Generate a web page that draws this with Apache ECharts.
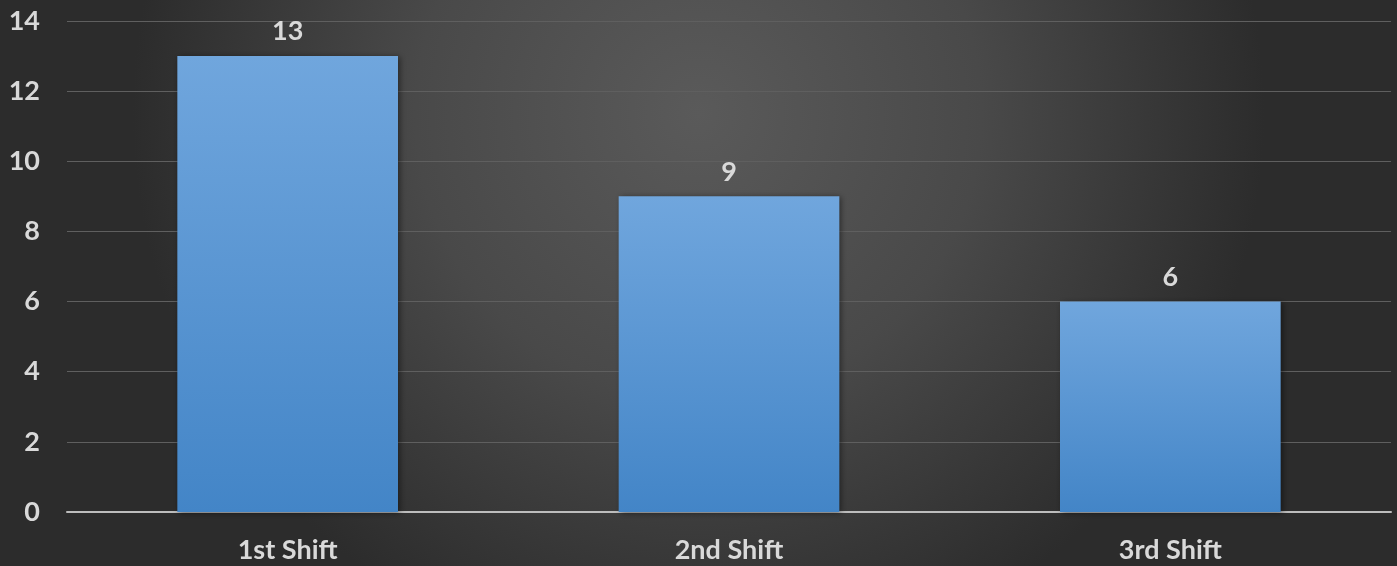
<!DOCTYPE html>
<html>
<head>
<meta charset="utf-8">
<script src="https://cdn.jsdelivr.net/npm/echarts@6/dist/echarts.min.js"></script>
<style>
html,body{margin:0;padding:0;background:#2e2e2e;}
#chart{width:1397px;height:566px;}
</style>
</head>
<body>
<div id="chart"></div>
<script>
const categories = ['1st Shift', '2nd Shift', '3rd Shift'];
const values = [13, 9, 6];
const yTicks = [0, 2, 4, 6, 8, 10, 12, 14];

const chart = echarts.init(document.getElementById('chart'));
const font = 'Lato, "Noto Sans", sans-serif';
chart.setOption({
  backgroundColor: {
    type: 'radial', x: 0.5, y: 0.2, r: 1.0,
    colorStops: [
      {offset: 0, color: '#5a5a5a'},
      {offset: 0.5, color: '#494949'},
      {offset: 1, color: '#2c2c2c'}
    ]
  },
  animation: false,
  grid: {left: 67, right: 6, top: 21, bottom: 54},
  xAxis: {
    type: 'category',
    data: categories,
    axisLine: {lineStyle: {color: '#bdbdbd', width: 2}},
    axisTick: {show: false},
    axisLabel: {color: '#d9d9d9', fontSize: 27, fontWeight: 'bold', fontFamily: font, margin: 25}
  },
  yAxis: {
    type: 'value',
    min: yTicks[0], max: yTicks[yTicks.length - 1], interval: 2,
    axisLine: {show: false},
    axisTick: {show: false},
    splitLine: {lineStyle: {color: '#5f5f5f', width: 1}},
    axisLabel: {color: '#d9d9d9', fontSize: 27, fontWeight: 'bold', fontFamily: font, margin: 27}
  },
  series: [{
    type: 'bar',
    data: values,
    barWidth: '50%',
    itemStyle: {
      color: {
        type: 'linear', x: 0, y: 0, x2: 0, y2: 1,
        colorStops: [{offset: 0, color: '#70a6dd'}, {offset: 1, color: '#4385c7'}]
      },
      shadowColor: 'rgba(0,0,0,0.45)', shadowBlur: 6, shadowOffsetX: 2, shadowOffsetY: 1
    },
    label: {
      show: true, position: 'top', distance: 11,
      color: '#d9d9d9', fontSize: 27, fontWeight: 'bold', fontFamily: font
    }
  }]
});
</script>
</body>
</html>
